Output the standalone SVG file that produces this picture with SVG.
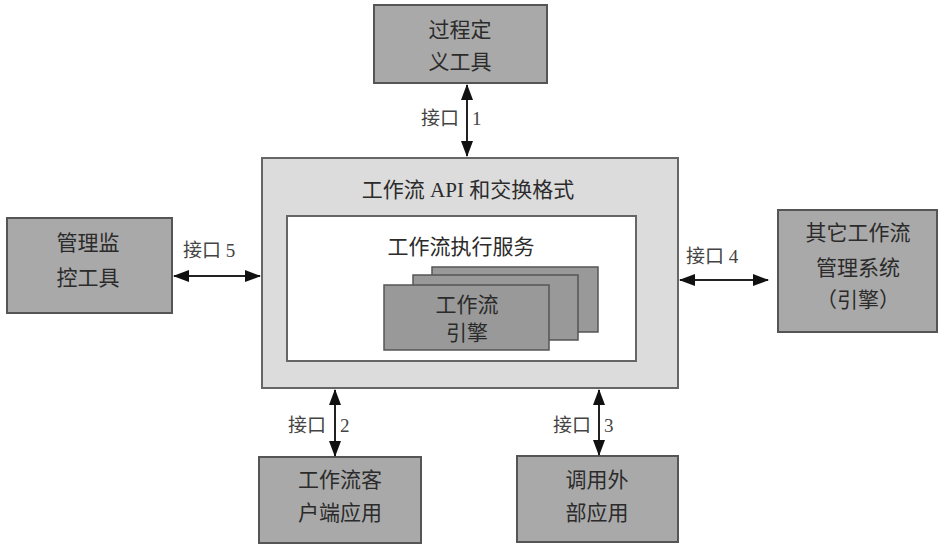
<svg xmlns="http://www.w3.org/2000/svg" width="939" height="545" viewBox="0 0 939 545">
<defs>
<marker id="ah" viewBox="0 0 16 12" refX="15" refY="6" markerWidth="16" markerHeight="12" markerUnits="userSpaceOnUse" orient="auto-start-reverse">
<path d="M0,0 L16,6 L0,12 Z" fill="#111"/>
</marker>
</defs>
<style>
.box{fill:#a9a9a9;stroke:#555;stroke-width:2}
.stack{fill:#999;stroke:#555;stroke-width:1.5}
.t{font-family:"Liberation Serif","Noto Sans CJK SC",serif;font-size:21px;fill:#2b2b2b;text-anchor:middle;dominant-baseline:central}
.lbl{font-family:"Liberation Serif","Noto Sans CJK SC",serif;font-size:19px;fill:#444;dominant-baseline:central}
.c{stroke:#222;stroke-width:2;fill:none;marker-start:url(#ah);marker-end:url(#ah)}
</style>
<rect width="939" height="545" fill="#fff"/>
<g id="core">
<rect x="262" y="158" width="416" height="230" fill="#dcdcdc" stroke="#666" stroke-width="2"/>
<text class="t" x="468" y="190">工作流 API 和交换格式</text>
<rect x="287" y="216" width="349" height="145" fill="#fff" stroke="#666" stroke-width="2"/>
<text class="t" x="461" y="247">工作流执行服务</text>
<rect class="stack" x="432" y="267" width="166" height="65"/>
<rect class="stack" x="413" y="275" width="165" height="65"/>
<rect class="stack" x="384" y="285" width="165" height="65"/>
<text class="t" x="467" y="305">工作流</text>
<text class="t" x="467" y="333">引擎</text>
</g>
<g id="n-def">
<rect class="box" x="374" y="5" width="173" height="78"/>
<text class="t" x="460" y="30">过程定</text>
<text class="t" x="460" y="62">义工具</text>
</g>
<g id="n-mon">
<rect class="box" x="7" y="218" width="165" height="95"/>
<text class="t" x="88" y="243">管理监</text>
<text class="t" x="88" y="278">控工具</text>
</g>
<g id="n-other">
<rect class="box" x="778" y="210" width="159" height="122"/>
<text class="t" x="858" y="233">其它工作流</text>
<text class="t" x="858" y="268">管理系统</text>
<text class="t" x="858" y="300">（引擎）</text>
</g>
<g id="n-client">
<rect class="box" x="259" y="457" width="162" height="86"/>
<text class="t" x="340" y="480">工作流客</text>
<text class="t" x="340" y="513">户端应用</text>
</g>
<g id="n-ext">
<rect class="box" x="517" y="456" width="161" height="86"/>
<text class="t" x="597" y="480">调用外</text>
<text class="t" x="597" y="513">部应用</text>
</g>
<g id="connectors">
<line class="c" x1="467" y1="85" x2="467" y2="156"/>
<text class="lbl" x="421" y="118">接口 <tspan x="472">1</tspan></text>
<line class="c" x1="174" y1="276" x2="260" y2="276"/>
<text class="lbl" x="183" y="250">接口 5</text>
<line class="c" x1="680" y1="280" x2="768" y2="280"/>
<text class="lbl" x="686" y="256">接口 4</text>
<line class="c" x1="335" y1="390" x2="335" y2="456"/>
<text class="lbl" x="288" y="425">接口 <tspan x="340">2</tspan></text>
<line class="c" x1="599" y1="390" x2="599" y2="455"/>
<text class="lbl" x="553" y="425">接口 <tspan x="604">3</tspan></text>
</g>
</svg>
